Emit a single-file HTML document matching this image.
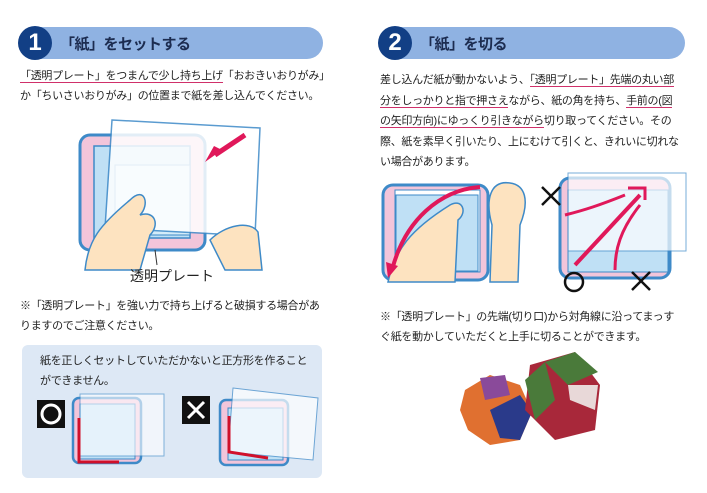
<!DOCTYPE html>
<html><head><meta charset="utf-8"><style>
body{margin:0;width:707px;height:493px;background:#fff;position:relative;overflow:hidden;font-family:"Liberation Sans","Noto Sans CJK JP",sans-serif;color:#222}
.t{position:absolute;font-size:11px;line-height:20px;white-space:nowrap;letter-spacing:-0.3px}
.u{border-bottom:1.5px solid #d0306a}
.hd{position:absolute;height:32px;border-radius:16px;background:#8fb2e2}
.hd b{position:absolute;left:38px;top:6px;font-size:15px;color:#1c2c50;letter-spacing:-0.5px}
.num{position:absolute;left:-4px;top:-1px;width:34px;height:34px;border-radius:50%;background:#123f85;color:#fff;font-size:24px;font-weight:bold;text-align:center;line-height:34px}
svg{position:absolute;left:0;top:0}
</style></head><body>
<div class="hd" style="left:22px;top:27px;width:301px"><div class="num">1</div><b>「紙」をセットする</b></div>
<div class="hd" style="left:382px;top:27px;width:303px"><div class="num">2</div><b>「紙」を切る</b></div>

<div class="t" style="left:20px;top:66px"><span class="u">「透明プレート」をつまんで少し持ち上げ</span>「おおきいおりがみ」<br>か「ちいさいおりがみ」の位置まで紙を差し込んでください。</div>
<div class="t" style="left:380px;top:70px;line-height:20.5px">差し込んだ紙が動かないよう、<span class="u">「透明プレート」先端の丸い部</span><br><span class="u">分をしっかりと指で押さえ</span>ながら、紙の角を持ち、<span class="u">手前の(図</span><br><span class="u">の矢印方向)にゆっくり引きながら</span>切り取ってください。その<br>際、紙を素早く引いたり、上にむけて引くと、きれいに切れな<br>い場合があります。</div>
<div class="t" style="left:20px;top:296px">※「透明プレート」を強い力で持ち上げると破損する場合があ<br>りますのでご注意ください。</div>
<div class="t" style="left:380px;top:307px">※「透明プレート」の先端(切り口)から対角線に沿ってまっす<br>ぐ紙を動かしていただくと上手に切ることができます。</div>

<div style="position:absolute;left:22px;top:345px;width:300px;height:133px;background:#dde8f5;border-radius:6px"></div>
<div class="t" style="left:40px;top:351px">紙を正しくセットしていただかないと正方形を作ること<br>ができません。</div>

<svg width="707" height="493">
<!-- illus 1 -->
<rect x="80" y="135" width="125" height="115" rx="10" fill="#f2c5da" stroke="#3e8ac8" stroke-width="3"/>
<rect x="94" y="146" width="96" height="92" fill="#bfe0f5" stroke="#3e8ac8" stroke-width="1.5"/>
<rect x="115" y="165" width="75" height="70" fill="#d4ecf9" stroke="#3e8ac8"/>
<polygon points="112,120 260,128 255,236 105,228" fill="#fff" stroke="#3e8ac8" stroke-width="1.5" opacity=".85"/>
<line x1="245" y1="135" x2="215" y2="155" stroke="#e0185a" stroke-width="5"/>
<polygon points="205,162 222,150 214,146" fill="#e0185a"/>
<path d="M85,270 C88,240 100,225 130,200 C145,185 150,205 140,215 C155,210 160,225 150,235 L140,270Z" fill="#fde3c0" stroke="#3e8ac8" stroke-width="1.5"/>
<path d="M210,240 C225,225 250,220 258,232 L262,270 L225,270Z" fill="#fde3c0" stroke="#3e8ac8" stroke-width="1.5"/>
<line x1="155" y1="250" x2="157" y2="265" stroke="#333"/>
<text x="130" y="281" font-size="14" fill="#222" font-family="Liberation Sans,Noto Sans CJK JP,sans-serif">透明プレート</text>
<!-- illus 2 left -->
<rect x="383" y="185" width="105" height="95" rx="10" fill="#f2c5da" stroke="#3e8ac8" stroke-width="3"/>
<rect x="395" y="190" width="85" height="82" fill="#fff" stroke="#3e8ac8"/>
<rect x="396" y="195" width="82" height="76" fill="#bfe0f5" stroke="#3e8ac8"/>
<path d="M388,282 C395,250 410,230 450,205 C462,198 468,212 458,220 L455,282Z" fill="#fde3c0" stroke="#3e8ac8" stroke-width="1.5"/>
<path d="M490,282 L492,225 C485,200 490,180 510,183 C525,185 530,200 520,225 L518,282Z" fill="#fde3c0" stroke="#3e8ac8" stroke-width="1.5"/>
<path d="M480,187 C440,190 405,220 392,270" fill="none" stroke="#e0185a" stroke-width="4"/>
<polygon points="388,278 386,262 398,266" fill="#e0185a"/>
<!-- illus 2 right -->
<rect x="560" y="178" width="110" height="100" rx="10" fill="#f2c5da" stroke="#3e8ac8" stroke-width="3"/>
<rect x="568" y="190" width="100" height="82" fill="#bfe0f5" stroke="#3e8ac8"/>
<rect x="568" y="173" width="118" height="78" fill="#fff" stroke="#3e8ac8" opacity=".7"/>
<line x1="640" y1="195" x2="575" y2="265" stroke="#e0185a" stroke-width="4"/>
<path d="M625,195 C600,205 585,210 565,215" fill="none" stroke="#e0185a" stroke-width="3"/>
<path d="M640,205 C620,230 615,250 615,270" fill="none" stroke="#e0185a" stroke-width="3"/>
<polyline points="628,188 645,188 645,200" fill="none" stroke="#e0185a" stroke-width="3"/>
<g stroke="#111" stroke-width="2.5" fill="none">
<line x1="542" y1="187" x2="560" y2="205"/><line x1="560" y1="187" x2="542" y2="205"/>
<line x1="632" y1="272" x2="650" y2="290"/><line x1="650" y1="272" x2="632" y2="290"/>
<circle cx="574" cy="282" r="9"/></g>
<!-- box illus -->
<rect x="37" y="400" width="28" height="28" fill="#111"/><circle cx="51" cy="414" r="9" fill="none" stroke="#fff" stroke-width="3"/>
<rect x="182" y="396" width="28" height="28" fill="#111"/><g stroke="#fff" stroke-width="3"><line x1="188" y1="402" x2="204" y2="418"/><line x1="204" y1="402" x2="188" y2="418"/></g>
<rect x="73" y="398" width="68" height="65" rx="6" fill="#f2c5da" stroke="#3e8ac8" stroke-width="2.5"/>
<rect x="80" y="404" width="55" height="55" fill="#bfe0f5" stroke="#3e8ac8"/>
<rect x="80" y="394" width="84" height="62" fill="#fff" stroke="#3e8ac8" opacity=".6"/>
<polyline points="79,418 79,462 119,462" fill="none" stroke="#d0102a" stroke-width="3"/>
<rect x="220" y="400" width="68" height="65" rx="6" fill="#f2c5da" stroke="#3e8ac8" stroke-width="2.5"/>
<rect x="228" y="408" width="55" height="52" fill="#bfe0f5" stroke="#3e8ac8"/>
<polygon points="233,388 318,398 313,460 228,452" fill="#fff" stroke="#3e8ac8" opacity=".7"/>
<polyline points="229,416 229,452 268,458" fill="none" stroke="#d0102a" stroke-width="3"/>
<!-- cubes -->
<polygon points="465,390 490,375 520,385 532,412 520,440 490,445 468,430 460,410" fill="#e07030"/>
<polygon points="490,410 520,395 532,412 520,440 500,438" fill="#2a3a8a"/>
<polygon points="480,378 505,375 510,395 485,400" fill="#8a4a9a"/>
<polygon points="530,365 575,352 600,385 595,430 555,440 525,410" fill="#a8283a"/>
<polygon points="545,362 575,352 598,372 568,385" fill="#4a7a3a"/>
<polygon points="568,385 598,385 595,410 570,400" fill="#e8d8d8"/>
<polygon points="525,380 545,362 555,400 535,420" fill="#4a7a3a"/>
</svg>
</body></html>
